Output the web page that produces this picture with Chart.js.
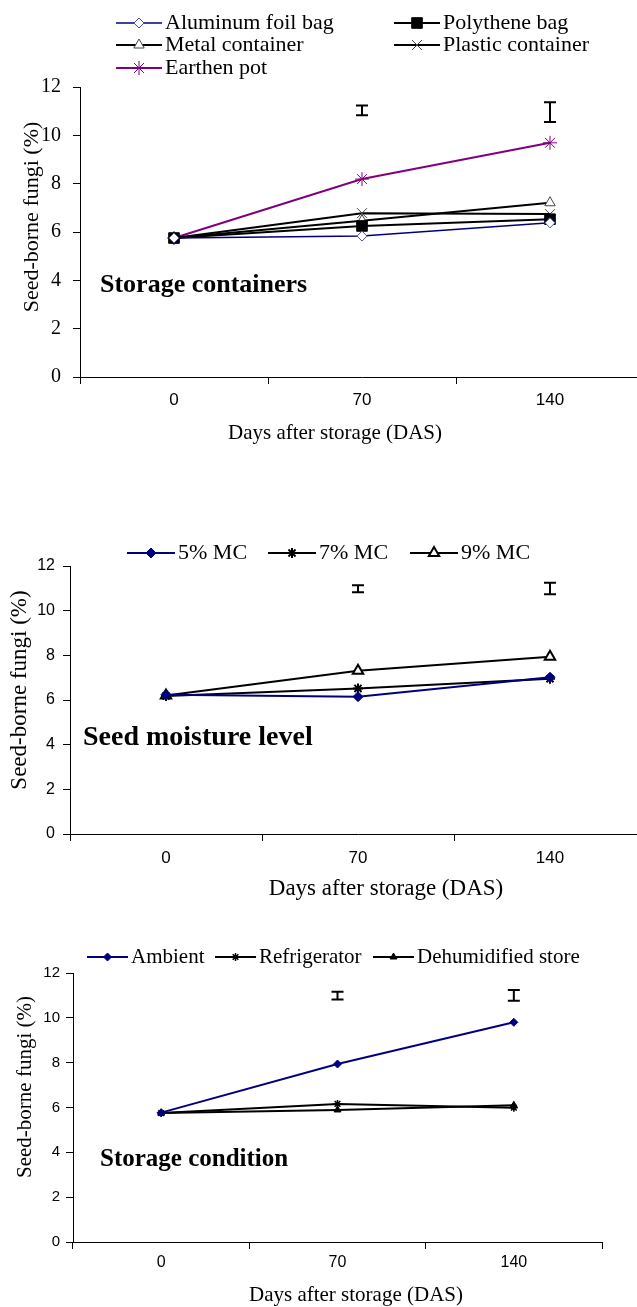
<!DOCTYPE html>
<html lang="en">
<head>
    <meta charset="UTF-8">
    <title>Seed-borne fungi during storage</title>
    <script src="https://cdn.jsdelivr.net/npm/chart.js"></script>
    <style>
        body { margin: 0; background: #fff; width: 637px; height: 1307px; overflow: hidden; position: relative; }
        canvas { position: absolute; left: 0; }
    </style>
</head>
<body>
    <canvas id="containerChart" width="660" height="450" style="top:0"></canvas>
    <canvas id="moistureChart" width="660" height="380" style="top:530px"></canvas>
    <canvas id="conditionChart" width="637" height="377" style="top:930px"></canvas>

    <script>
        // x categories, shared by all three panels
        const storageDays = ['0', '70', '140'];

        // Storage containers
        const aluminumFoilBag = [5.75, 5.83, 6.38];
        const polytheneBag = [5.75, 6.25, 6.53];
        const metalContainer = [5.75, 6.47, 7.21];
        const plasticContainer = [5.75, 6.78, 6.74];
        const earthenPot = [5.75, 8.19, 9.69];
        const containerLsdMid = [null, 11.03, 10.96];
        const containerLsdHalf = [null, 0.2, 0.41];

        // Seed moisture level
        const mc5 = [6.24, 6.15, 7.02];
        const mc7 = [6.18, 6.52, 6.95];
        const mc9 = [6.2, 7.31, 7.94];
        const moistureLsdMid = [null, 10.98, 10.99];
        const moistureLsdHalf = [null, 0.16, 0.26];

        // Storage condition
        const ambient = [5.77, 7.94, 9.8];
        const refrigerator = [5.75, 6.16, 5.99];
        const dehumidified = [5.75, 5.89, 6.1];
        const conditionLsdMid = [null, 10.99, 11.0];
        const conditionLsdHalf = [null, 0.17, 0.24];

        const yTicks = [0, 2, 4, 6, 8, 10, 12];

        const SERIF = '"Liberation Serif", "Times New Roman", serif';
        const SANS = '"Liberation Sans", Arial, sans-serif';
        const NAVY = '#00007f';
        const PURPLE = '#800080';

        // LSD bars, panel label, axis titles and legend
        const extras = {
            id: 'extras',
            afterDraw(chart, args, o) {
                const ctx = chart.ctx;
                const xs = chart.scales.x, ys = chart.scales.y;
                ctx.save();

                ctx.strokeStyle = '#000';
                ctx.lineWidth = 2;
                o.lsdMid.forEach((m, i) => {
                    if (m == null) return;
                    const px = xs.getPixelForValue(i);
                    const top = ys.getPixelForValue(m + o.lsdHalf[i]);
                    const bot = ys.getPixelForValue(m - o.lsdHalf[i]);
                    ctx.beginPath();
                    ctx.moveTo(px, top); ctx.lineTo(px, bot);
                    ctx.moveTo(px - 6, top); ctx.lineTo(px + 6, top);
                    ctx.moveTo(px - 6, bot); ctx.lineTo(px + 6, bot);
                    ctx.stroke();
                });

                ctx.fillStyle = '#000';
                ctx.textBaseline = 'middle';
                ctx.textAlign = 'left';
                ctx.font = 'bold ' + o.label.size + 'px ' + SERIF;
                ctx.fillText(o.label.text, o.label.x, o.label.y);

                ctx.textAlign = 'center';
                ctx.font = o.xTitle.size + 'px ' + SERIF;
                ctx.fillText('Days after storage (DAS)', o.xTitle.x, o.xTitle.y);

                ctx.save();
                ctx.translate(o.yTitle.x, o.yTitle.y);
                ctx.rotate(-Math.PI / 2);
                ctx.font = o.yTitle.size + 'px ' + SERIF;
                ctx.fillText('Seed-borne fungi (%)', 0, 0);
                ctx.restore();

                ctx.textAlign = 'left';
                ctx.font = o.legend.size + 'px ' + SERIF;
                chart.data.datasets.forEach((ds, i) => {
                    const p = o.legend.items[i];
                    const x1 = p.x + o.legend.lineLen;
                    ctx.strokeStyle = ds.borderColor;
                    ctx.lineWidth = ds.borderWidth;
                    ctx.beginPath();
                    ctx.moveTo(p.x, p.y); ctx.lineTo(x1, p.y);
                    ctx.stroke();
                    ctx.fillStyle = ds.pointBackgroundColor;
                    ctx.strokeStyle = ds.pointBorderColor;
                    ctx.lineWidth = ds.pointBorderWidth;
                    Chart.helpers.drawPoint(ctx, {
                        pointStyle: ds.pointStyle, rotation: 0,
                        radius: ds.pointRadius, borderWidth: ds.pointBorderWidth
                    }, (p.x + x1) / 2, p.y);
                    ctx.fillStyle = '#000';
                    ctx.fillText(ds.label, x1 + 3, p.y);
                });
                ctx.restore();
            }
        };

        function series(label, data, color, style, radius, fill, pointColor, pointWidth, lineWidth) {
            return {
                label: label,
                data: data,
                borderColor: color,
                borderWidth: lineWidth,
                pointStyle: style,
                pointRadius: radius,
                pointBackgroundColor: fill,
                pointBorderColor: pointColor,
                pointBorderWidth: pointWidth,
                tension: 0,
                fill: false
            };
        }

        function makePanel(id, p) {
            const canvas = document.getElementById(id);
            new Chart(canvas, {
                type: 'line',
                data: { labels: storageDays, datasets: p.datasets },
                options: {
                    responsive: false,
                    animation: false,
                    layout: { padding: { top: p.top, right: p.right, left: 0, bottom: 0 } },
                    plugins: { legend: { display: false }, tooltip: { enabled: false }, extras: p.extras },
                    scales: {
                        x: {
                            type: 'category',
                            offset: true,
                            grid: { offset: true, drawOnChartArea: false, tickLength: 7, color: '#000' },
                            border: { display: true, color: '#000', width: 1 },
                            ticks: { color: '#000', padding: p.xTickPad, font: { family: SANS, size: p.xTickSize } },
                            afterFit: s => { s.height = canvas.height - p.bottom; }
                        },
                        y: {
                            min: 0,
                            max: 12,
                            afterBuildTicks: s => { s.ticks = yTicks.map(v => ({ value: v })); },
                            grid: { drawOnChartArea: false, tickLength: 7, color: '#000' },
                            border: { display: true, color: '#000', width: 1 },
                            ticks: { color: '#000', padding: p.yTickPad, font: { family: p.yTickFamily, size: p.yTickSize } },
                            afterFit: s => { s.width = p.left; }
                        }
                    }
                },
                plugins: [extras]
            });
        }

        makePanel('containerChart', {
            top: 87, right: 16, left: 80, bottom: 377,
            xTickPad: 6, xTickSize: 17, yTickPad: 12, yTickSize: 20, yTickFamily: SERIF,
            datasets: [
                series('Aluminum foil bag', aluminumFoilBag, NAVY, 'rectRot', 5, '#fff', '#4050b0', 1, 1.5),
                series('Polythene bag', polytheneBag, '#000', 'rect', 7.5, '#000', '#000', 1, 2),
                series('Metal container', metalContainer, '#000', 'triangle', 6, '#fff', '#444', 1, 2),
                series('Plastic container', plasticContainer, '#000', 'crossRot', 7, '#fff', '#444', 1, 2),
                series('Earthen pot', earthenPot, PURPLE, 'star', 7, '#fff', PURPLE, 1, 2)
            ],
            extras: {
                lsdMid: containerLsdMid, lsdHalf: containerLsdHalf,
                label: { text: 'Storage containers', x: 100, y: 285, size: 26 },
                xTitle: { x: 335, y: 433, size: 21 },
                yTitle: { x: 32, y: 217, size: 22 },
                legend: {
                    size: 22, lineLen: 46,
                    items: [
                        { x: 116, y: 23 }, { x: 394, y: 23 },
                        { x: 116, y: 45 }, { x: 394, y: 45 },
                        { x: 116, y: 68 }
                    ]
                }
            }
        });

        makePanel('moistureChart', {
            top: 36, right: 14, left: 70, bottom: 304,
            xTickPad: 7, xTickSize: 17, yTickPad: 8, yTickSize: 16, yTickFamily: SANS,
            datasets: [
                series('5% MC', mc5, NAVY, 'rectRot', 5, NAVY, NAVY, 1, 2),
                series('7% MC', mc7, '#000', 'star', 5, '#000', '#000', 2, 2),
                series('9% MC', mc9, '#000', 'triangle', 6, '#fff', '#000', 2, 2)
            ],
            extras: {
                lsdMid: moistureLsdMid, lsdHalf: moistureLsdHalf,
                label: { text: 'Seed moisture level', x: 83, y: 208, size: 28 },
                xTitle: { x: 386, y: 359, size: 23 },
                yTitle: { x: 20, y: 160, size: 23 },
                legend: {
                    size: 22, lineLen: 48,
                    items: [{ x: 127, y: 23 }, { x: 268, y: 23 }, { x: 410, y: 23 }]
                }
            }
        });

        makePanel('conditionChart', {
            top: 43, right: 35, left: 73, bottom: 312,
            xTickPad: 4, xTickSize: 16, yTickPad: 6, yTickSize: 15, yTickFamily: SANS,
            datasets: [
                series('Ambient', ambient, NAVY, 'rectRot', 4, NAVY, NAVY, 1, 2),
                series('Refrigerator', refrigerator, '#000', 'star', 4, '#000', '#000', 1.5, 2),
                series('Dehumidified store', dehumidified, '#000', 'triangle', 4, '#000', '#000', 1, 2)
            ],
            extras: {
                lsdMid: conditionLsdMid, lsdHalf: conditionLsdHalf,
                label: { text: 'Storage condition', x: 100, y: 230, size: 25 },
                xTitle: { x: 356, y: 365, size: 21 },
                yTitle: { x: 25, y: 157, size: 21 },
                legend: {
                    size: 21, lineLen: 41,
                    items: [{ x: 87, y: 27 }, { x: 215, y: 27 }, { x: 373, y: 27 }]
                }
            }
        });
    </script>
</body>
</html>
